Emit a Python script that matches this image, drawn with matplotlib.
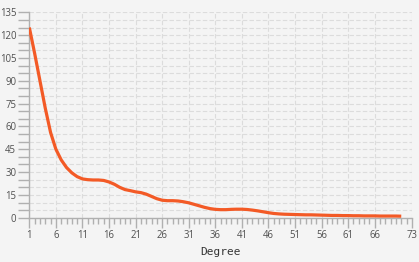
import numpy as np
import matplotlib
matplotlib.use("Agg")
import matplotlib.pyplot as plt

# ---- data ----
degree = list(range(1, 72))
count = [125, 108, 90, 72, 56, 45, 38, 33, 29.5, 27,
         25.5, 25, 24.8, 24.8, 24.5, 23.5, 22, 20, 18.5, 17.8,
         17, 16.5, 15.5, 14, 12.5, 11.5, 11.2, 11.2, 11, 10.5,
         9.8, 8.8, 7.8, 6.8, 6, 5.5, 5.3, 5.3, 5.5, 5.6,
         5.6, 5.4, 5, 4.5, 3.9, 3.3, 2.8, 2.5, 2.3, 2.2,
         2.1, 2.0, 1.9, 1.9, 1.8, 1.7, 1.6, 1.5, 1.5, 1.4,
         1.4, 1.3, 1.3, 1.2, 1.2, 1.2, 1.1, 1.1, 1.1, 1.1, 1.0]
x_ticks = [1, 6, 11, 16, 21, 26, 31, 36, 41, 46, 51, 56, 61, 66, 73]
y_ticks = list(range(0, 136, 15))

BG = "#f4f4f4"
fig = plt.figure(figsize=(4.19, 2.62), dpi=100, facecolor=BG)
ax = fig.add_axes([0.070, 0.169, 0.913, 0.784], facecolor=BG)

ax.plot(degree, count, color="#f35a26", linewidth=2.3, solid_capstyle="butt", zorder=3)

ax.set_xlim(1, 73)
ax.set_ylim(0, 135)
ax.set_xticks(x_ticks)
ax.set_xticks(range(1, 74), minor=True)
ax.set_yticks(y_ticks)
ax.set_yticks(range(0, 136, 5), minor=True)

grid_kw = dict(color="#dcdcdc", linestyle=(0, (4, 2)), linewidth=0.8)
ax.yaxis.grid(True, which="both", **grid_kw)
ax.xaxis.grid(True, which="major", **grid_kw)
ax.set_axisbelow(True)

for side in ("top", "right"):
    ax.spines[side].set_visible(False)
for side in ("left", "bottom"):
    ax.spines[side].set_color("#b0b0b0")
    ax.spines[side].set_linewidth(1.0)

ax.tick_params(axis="both", which="both", color="#b0b0b0", width=1.0,
               labelcolor="#505050", labelsize=6.9, pad=1.5)
ax.tick_params(axis="y", which="both", length=8)
ax.tick_params(axis="x", which="major", length=7, pad=2)
ax.tick_params(axis="x", which="minor", length=4)
for lab in ax.get_xticklabels() + ax.get_yticklabels():
    lab.set_family("Open Sans")

ax.set_xlabel("Degree", family="DejaVu Sans Mono", fontsize=8, color="#333333", labelpad=4)

fig.savefig("out.png", dpi=100, facecolor=BG)
